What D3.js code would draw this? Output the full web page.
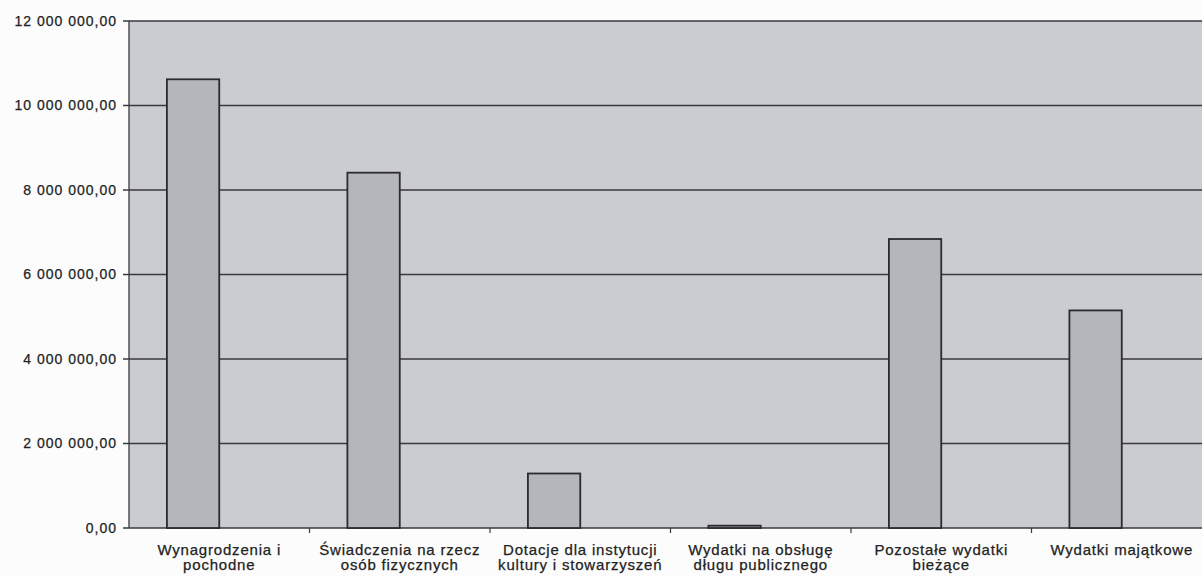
<!DOCTYPE html>
<html lang="pl">
<head>
    <meta charset="UTF-8">
    <title>Wydatki</title>
    <script src="https://d3js.org/d3.v7.min.js"></script>
    <style>
        body, html {
            margin: 0;
            padding: 0;
            overflow: hidden;
            width: 100%;
            height: 100%;
            background: #fcfcfc;
        }
        svg {
            display: block;
        }
        text {
            font-family: "Liberation Sans", Arial, sans-serif;
            fill: #222;
            stroke: #222;
            stroke-width: 0.25px;
        }
    </style>
</head>
<body>
    <svg width="1202" height="576"></svg>

    <script>
        // data
        const categories = [
            ["Wynagrodzenia i", "pochodne"],
            ["Świadczenia na rzecz", "osób fizycznych"],
            ["Dotacje dla instytucji", "kultury i stowarzyszeń"],
            ["Wydatki na obsługę", "długu publicznego"],
            ["Pozostałe wydatki", "bieżące"],
            ["Wydatki majątkowe"]
        ];
        const values = [10620000, 8410000, 1290000, 55000, 6840000, 5150000];
        const yTicks = [0, 2000000, 4000000, 6000000, 8000000, 10000000, 12000000];

        const svg = d3.select("svg");
        const margin = {top: 21, left: 129, bottom: 48};
        const plotW = 1083;
        const height = 576;

        const x = d3.scaleBand()
            .domain(d3.range(categories.length))
            .range([margin.left, margin.left + plotW])
            .padding(0);
        const y = d3.scaleLinear()
            .domain([0, 12000000])
            .range([height - margin.bottom, margin.top]);

        const fmt = v => d3.format(",.2f")(v).replace(/,/g, " ").replace(".", ",");

        // plot background
        svg.append("rect")
            .attr("x", margin.left)
            .attr("y", y(12000000))
            .attr("width", plotW)
            .attr("height", y(0) - y(12000000))
            .attr("fill", "#caccd2");

        // gridlines
        svg.append("g")
            .selectAll("line")
            .data(yTicks)
            .enter().append("line")
            .attr("x1", margin.left - 6)
            .attr("x2", margin.left + plotW)
            .attr("y1", d => y(d))
            .attr("y2", d => y(d))
            .attr("stroke", "#3a3a3c")
            .attr("stroke-width", 1.3);

        // y axis line
        svg.append("line")
            .attr("x1", margin.left).attr("x2", margin.left)
            .attr("y1", y(12000000)).attr("y2", y(0))
            .attr("stroke", "#3a3a3c")
            .attr("stroke-width", 1.3);

        // y labels
        svg.append("g")
            .selectAll("text")
            .data(yTicks)
            .enter().append("text")
            .attr("x", margin.left - 12)
            .attr("y", d => y(d))
            .attr("dy", "0.35em")
            .attr("text-anchor", "end")
            .attr("font-size", 14)
            .attr("letter-spacing", 1.0)
            .text(fmt);

        // category ticks
        svg.append("g")
            .selectAll("line")
            .data(d3.range(1, categories.length))
            .enter().append("line")
            .attr("x1", d => x(d)).attr("x2", d => x(d))
            .attr("y1", y(0)).attr("y2", y(0) + 5)
            .attr("stroke", "#3a3a3c")
            .attr("stroke-width", 1.2);

        // bars sit left of the band centre (empty second series on the right)
        const barW = x.bandwidth() * 0.29;
        svg.append("g")
            .selectAll("rect")
            .data(values)
            .enter().append("rect")
            .attr("x", (d, i) => x(i) + x.bandwidth() / 2 - barW)
            .attr("y", d => y(d))
            .attr("width", barW)
            .attr("height", d => y(0) - y(d))
            .attr("fill", "#b5b6bb")
            .attr("stroke", "#2b2b2d")
            .attr("stroke-width", 1.8);

        // category labels
        const lab = svg.append("g")
            .selectAll("text")
            .data(categories)
            .enter().append("text")
            .attr("x", (d, i) => x(i) + x.bandwidth() / 2)
            .attr("y", y(0) + 27)
            .attr("text-anchor", "middle")
            .attr("font-size", 15)
            .attr("letter-spacing", 0.8);
        lab.selectAll("tspan")
            .data(d => d)
            .enter().append("tspan")
            .attr("x", function() { return d3.select(this.parentNode).attr("x"); })
            .attr("dy", (d, i) => i ? 15 : 0)
            .text(d => d);
    </script>
</body>
</html>
